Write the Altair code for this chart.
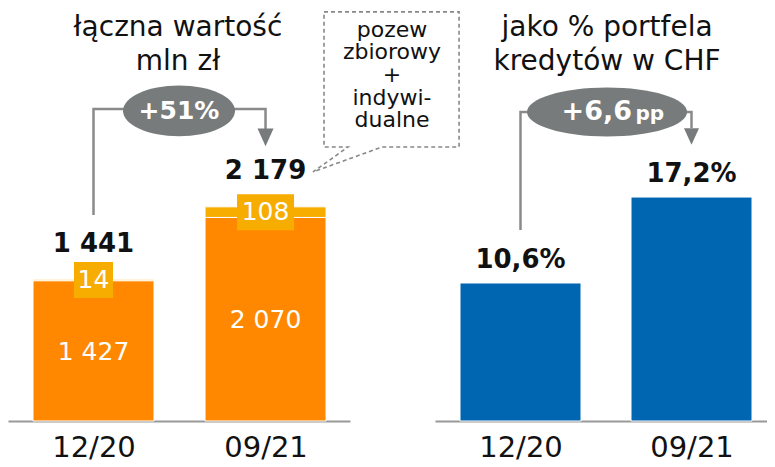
import altair as alt
import pandas as pd

# ---------------- data ----------------
categories = ["12/20", "09/21"]
base_values = [1427, 2070]          # orange part (mln zł)
top_values = [14, 108]              # yellow part (mln zł)
total_labels = ["1 441", "2 179"]
base_labels = ["1 427", "2 070"]
top_labels = ["14", "108"]
share_values = [10.6, 17.2]         # % of CHF portfolio
share_labels = ["10,6%", "17,2%"]
growth_left = "+51%"
growth_right_num = "+6,6"
growth_right_unit = "pp"
left_title = ["łączna wartość", "mln zł"]
right_title = ["jako % portfela", "kredytów w CHF"]
note_lines = ["pozew", "zbiorowy", "+", "indywi-", "dualne"]

FONT = "DejaVu Sans"
ORANGE = "#FF8800"
YELLOW = "#F7AD00"
BLUE = "#0066B2"
GREY = "#777B7B"
LINE_GREY = "#8A8A8A"

L_DOMAIN_Y = [0, 4200]
R_DOMAIN_Y = [0, 31.72]
L_DOMAIN_X = [-0.497, 1.491]
R_DOMAIN_X = [-0.5, 1.4415]

label_expr = " : ".join(
    [f"datum.value == {i} ? '{c}'" for i, c in enumerate(categories)]) + " : ''"

AXIS = alt.Axis(values=list(range(len(categories))), labelExpr=label_expr,
                title=None, ticks=False, grid=False, labelFontSize=29,
                labelFont=FONT, labelColor="#111", labelPadding=12,
                domainColor="#999", domainWidth=2, labelFlush=False)

def xq(domain):
    return alt.X("x:Q", scale=alt.Scale(domain=domain, nice=False, zero=False, padding=0), axis=AXIS)

def yq(domain, field="y:Q"):
    return alt.Y(field, scale=alt.Scale(domain=domain, nice=False, zero=False, padding=0), axis=None)

ELLIPSE = lambda r: (f"M-1,0C-1,{-0.5523*r:.4f},-0.5523,{-r:.4f},0,{-r:.4f}"
                     f"C0.5523,{-r:.4f},1,{-0.5523*r:.4f},1,0"
                     f"C1,{0.5523*r:.4f},0.5523,{r:.4f},0,{r:.4f}"
                     f"C-0.5523,{r:.4f},-1,{0.5523*r:.4f},-1,0Z")
TRI = "M-1,-1.1L1,-1.1L0,1.1Z"

# ---------------- left panel ----------------
rows = []
for i in range(len(categories)):
    rows.append({"x": i, "seg": "base", "y": 0, "y2": base_values[i]})
    rows.append({"x": i, "seg": "top", "y": base_values[i], "y2": base_values[i] + top_values[i]})
lb = pd.DataFrame(rows)

bars_l = alt.Chart(lb).mark_bar(size=121, stroke="white", strokeWidth=1).encode(
    x=xq(L_DOMAIN_X), y=yq(L_DOMAIN_Y), y2="y2:Q",
    color=alt.Color("seg:N", scale=alt.Scale(domain=["base", "top"], range=[ORANGE, YELLOW]), legend=None),
)

half_box = 183
tb = pd.DataFrame({
    "x": list(range(len(categories))),
    "c": [b + t / 2 for b, t in zip(base_values, top_values)],
    "lab": top_labels,
})
tb["y"] = tb["c"] - half_box
tb["y2"] = tb["c"] + half_box
tb["w"] = [18 * len(s) + 3 for s in top_labels]
boxes_l = alt.Chart(tb).mark_bar(color=YELLOW).encode(
    x=xq(L_DOMAIN_X), y=yq(L_DOMAIN_Y), y2="y2:Q", size=alt.Size("w:Q", scale=None))
boxtext_l = alt.Chart(tb).mark_text(font=FONT, fontSize=25, color="white", baseline="middle").encode(
    x=xq(L_DOMAIN_X), y=yq(L_DOMAIN_Y, "c:Q"), text="lab:N")

inner = pd.DataFrame({"x": list(range(len(categories))),
                      "y": [702, 1027], "lab": base_labels})
inner_l = alt.Chart(inner).mark_text(font=FONT, fontSize=25, color="white", baseline="middle").encode(
    x=xq(L_DOMAIN_X), y=yq(L_DOMAIN_Y), text="lab:N")

tot = pd.DataFrame({"x": list(range(len(categories))),
                    "y": [b + t + 362 for b, t in zip(base_values, top_values)], "lab": total_labels})
tot_l = alt.Chart(tot).mark_text(font=FONT, fontSize=26, fontWeight="bold", color="#111", baseline="middle").encode(
    x=xq(L_DOMAIN_X), y=yq(L_DOMAIN_Y), text="lab:N")

ttl_l = alt.Chart(pd.DataFrame({"x": [0.491, 0.491], "y": [3998, 3652], "lab": left_title})).mark_text(
    font=FONT, fontSize=28, color="#111", baseline="middle").encode(
    x=xq(L_DOMAIN_X), y=yq(L_DOMAIN_Y), text="lab:N")

br_l = alt.Chart(pd.DataFrame({"x": [0, 0, 1, 1], "y": [2096, 3174, 3174, 2960], "o": [0, 1, 2, 3]})).mark_line(
    color=LINE_GREY, strokeWidth=2.5).encode(x=xq(L_DOMAIN_X), y=yq(L_DOMAIN_Y), order="o:Q")
arr_l = alt.Chart(pd.DataFrame({"x": [1], "y": [2884]})).mark_point(
    shape=TRI, size=256, filled=True, color=GREY, opacity=1).encode(x=xq(L_DOMAIN_X), y=yq(L_DOMAIN_Y))
ell_l = alt.Chart(pd.DataFrame({"x": [0.497], "y": [3154]})).mark_point(
    shape=ELLIPSE(0.455), size=112 ** 2, filled=True, color=GREY, opacity=1).encode(
    x=xq(L_DOMAIN_X), y=yq(L_DOMAIN_Y))
elltxt_l = alt.Chart(pd.DataFrame({"x": [0.497], "y": [3154], "lab": [growth_left]})).mark_text(
    font=FONT, fontSize=25, fontWeight="bold", color="white", baseline="middle").encode(
    x=xq(L_DOMAIN_X), y=yq(L_DOMAIN_Y), text="lab:N")

box_pts = pd.DataFrame({
    "x": [1.340, 2.125, 2.125, 1.677, 1.276, 1.480, 1.340, 1.340],
    "y": [4161, 4161, 2787, 2787, 2533, 2787, 2787, 4161],
    "o": list(range(8)),
})
note_box = alt.Chart(box_pts).mark_line(color="#888", strokeWidth=1.6, strokeDash=[4, 3]).encode(
    x=xq(L_DOMAIN_X), y=yq(L_DOMAIN_Y), order="o:Q")
note_txt = alt.Chart(pd.DataFrame({"x": [1.735], "y": [4080], "lab": ["\n".join(note_lines)]})).mark_text(
    font=FONT, fontSize=22, color="#111", baseline="top", lineBreak="\n", lineHeight=22.6).encode(
    x=xq(L_DOMAIN_X), y=yq(L_DOMAIN_Y), text="lab:N")

left = alt.layer(bars_l, boxes_l, boxtext_l, inner_l, tot_l, ttl_l, br_l, arr_l, ell_l, elltxt_l,
                 note_box, note_txt).properties(width=342, height=413)

# ---------------- right panel ----------------
rb = pd.DataFrame({"x": list(range(len(categories))), "y": share_values, "lab": share_labels})
bars_r = alt.Chart(rb).mark_bar(size=121, color=BLUE, stroke="white", strokeWidth=1).encode(
    x=xq(R_DOMAIN_X), y=yq(R_DOMAIN_Y))
rb["ly"] = rb["y"] + 1.8
lab_r = alt.Chart(rb).mark_text(font=FONT, fontSize=26, fontWeight="bold", color="#111", baseline="middle").encode(
    x=xq(R_DOMAIN_X), y=yq(R_DOMAIN_Y, "ly:Q"), text="lab:N")
ttl_r = alt.Chart(pd.DataFrame({"x": [0.506, 0.506], "y": [30.18, 27.57], "lab": right_title})).mark_text(
    font=FONT, fontSize=28, color="#111", baseline="middle").encode(
    x=xq(R_DOMAIN_X), y=yq(R_DOMAIN_Y), text="lab:N")
br_r = alt.Chart(pd.DataFrame({"x": [0, 0, 1, 1], "y": [14.67, 23.73, 23.73, 22.5], "o": [0, 1, 2, 3]})).mark_line(
    color=LINE_GREY, strokeWidth=2.5).encode(x=xq(R_DOMAIN_X), y=yq(R_DOMAIN_Y), order="o:Q")
arr_r = alt.Chart(pd.DataFrame({"x": [1], "y": [21.85]})).mark_point(
    shape=TRI, size=225, filled=True, color=GREY, opacity=1).encode(x=xq(R_DOMAIN_X), y=yq(R_DOMAIN_Y))
ell_r = alt.Chart(pd.DataFrame({"x": [0.506], "y": [23.73]})).mark_point(
    shape=ELLIPSE(0.306), size=160 ** 2, filled=True, color=GREY, opacity=1).encode(
    x=xq(R_DOMAIN_X), y=yq(R_DOMAIN_Y))
ell_r_num = alt.Chart(pd.DataFrame({"x": [0.652], "y": [23.73], "lab": [growth_right_num]})).mark_text(
    font=FONT, fontSize=27, fontWeight="bold", color="white", baseline="middle", align="right").encode(
    x=xq(R_DOMAIN_X), y=yq(R_DOMAIN_Y), text="lab:N")
ell_r_unit = alt.Chart(pd.DataFrame({"x": [0.672], "y": [23.55], "lab": [growth_right_unit]})).mark_text(
    font=FONT, fontSize=20, fontWeight="bold", color="white", baseline="middle", align="left").encode(
    x=xq(R_DOMAIN_X), y=yq(R_DOMAIN_Y), text="lab:N")

right = alt.layer(bars_r, lab_r, ttl_r, br_r, arr_r, ell_r, ell_r_num, ell_r_unit).properties(width=332, height=413)

chart = alt.hconcat(left, right, spacing=85, bounds="flush").properties(
    padding=0, background="white"
).configure_view(stroke=None)

chart.save("out.html", embed_options={"renderer": "svg", "actions": False})
